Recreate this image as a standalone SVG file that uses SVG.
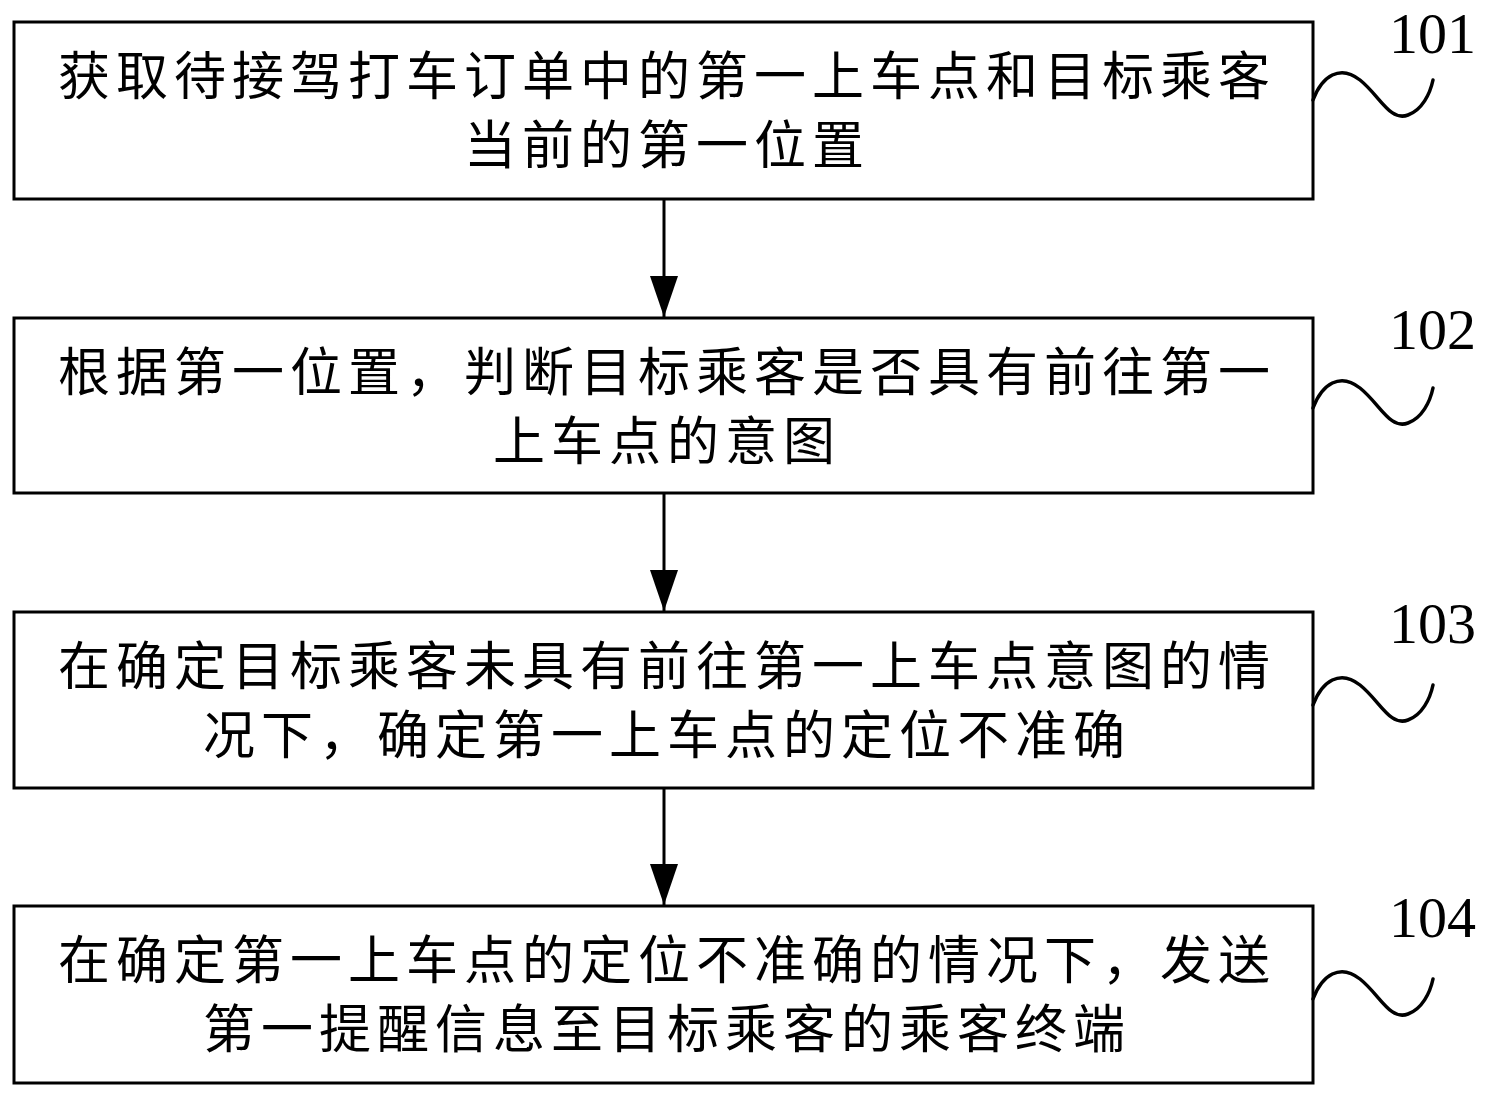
<svg xmlns="http://www.w3.org/2000/svg" width="1490" height="1098" viewBox="0 0 1490 1098">
<style>
.box{fill:#fff;stroke:#000;stroke-width:3}
.t{font-family:"Noto Sans CJK SC","Noto Sans CJK JP",sans-serif;font-size:52px;letter-spacing:6px;fill:#000;text-anchor:middle}
.lbl{font-family:"Liberation Serif","Times New Roman",serif;font-size:58px;fill:#000}
.wave{fill:none;stroke:#000;stroke-width:3.5;stroke-linecap:round}
.conn{stroke:#000;stroke-width:3;fill:none}
</style>
<defs>
<marker id="ah" markerUnits="userSpaceOnUse" viewBox="0 -15 42 30" refX="41" refY="0" markerWidth="42" markerHeight="30" orient="auto">
<path d="M0,-14 L41,0 L0,14 Z" fill="#000"/>
</marker>
<path id="wv" d="M1313,0 C1322,-24 1340,-36 1360,-20 C1380,-4 1390,22 1408,15 C1422,10 1430,-6 1433,-20"/>
</defs>
<rect x="0" y="0" width="1490" height="1098" fill="#fff"/>
<g id="connectors">
<line class="conn" x1="664" y1="199" x2="664" y2="317" marker-end="url(#ah)"/>
<line class="conn" x1="664" y1="493" x2="664" y2="611" marker-end="url(#ah)"/>
<line class="conn" x1="664" y1="788" x2="664" y2="905" marker-end="url(#ah)"/>
</g>
<g id="step101">
<rect class="box" x="14" y="22" width="1299" height="177"/>
<text class="t" x="667" y="95">获取待接驾打车订单中的第一上车点和目标乘客</text>
<text class="t" x="667" y="164">当前的第一位置</text>
<use href="#wv" class="wave" transform="translate(0,100)"/>
<text class="lbl" x="1389" y="53">101</text>
</g>
<g id="step102">
<rect class="box" x="14" y="318" width="1299" height="175"/>
<text class="t" x="667" y="391">根据第一位置，判断目标乘客是否具有前往第一</text>
<text class="t" x="667" y="460">上车点的意图</text>
<use href="#wv" class="wave" transform="translate(0,408)"/>
<text class="lbl" x="1389" y="349">102</text>
</g>
<g id="step103">
<rect class="box" x="14" y="612" width="1299" height="176"/>
<text class="t" x="667" y="685">在确定目标乘客未具有前往第一上车点意图的情</text>
<text class="t" x="667" y="754">况下，确定第一上车点的定位不准确</text>
<use href="#wv" class="wave" transform="translate(0,705)"/>
<text class="lbl" x="1389" y="643">103</text>
</g>
<g id="step104">
<rect class="box" x="14" y="906" width="1299" height="177"/>
<text class="t" x="667" y="979">在确定第一上车点的定位不准确的情况下，发送</text>
<text class="t" x="667" y="1048">第一提醒信息至目标乘客的乘客终端</text>
<use href="#wv" class="wave" transform="translate(0,999)"/>
<text class="lbl" x="1389" y="937">104</text>
</g>
</svg>
